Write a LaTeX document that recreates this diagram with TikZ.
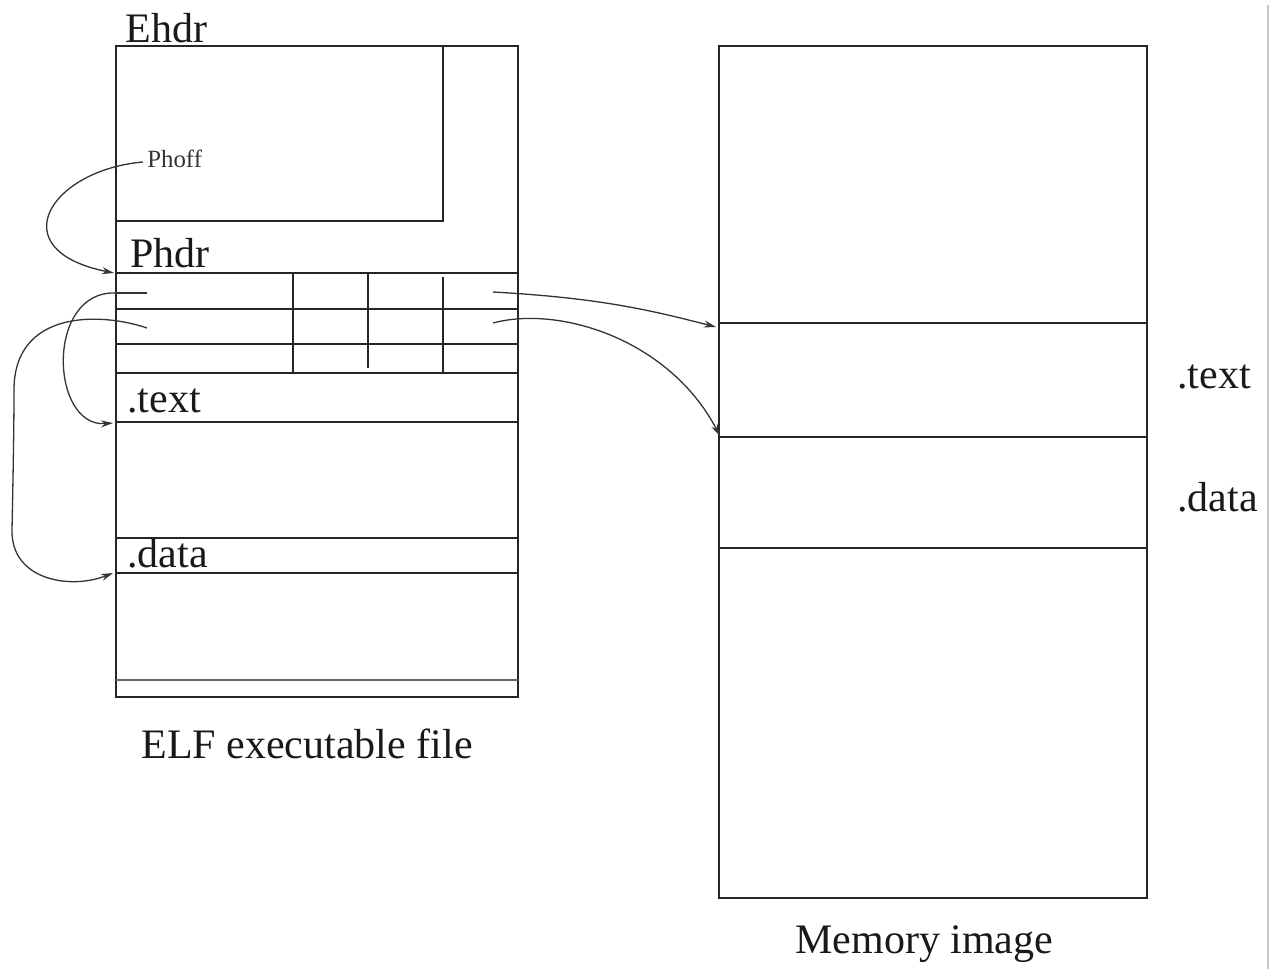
\documentclass[tikz,border=0pt]{standalone}
\usepackage{fontspec}
\setmainfont{Liberation Serif}
\usetikzlibrary{arrows.meta}
\begin{document}
\begin{tikzpicture}[x=0.5pt,y=-0.5pt,
  ln/.style={draw=black!85,line width=0.75pt},
  lbl/.style={anchor=base west,inner sep=0pt,font=\fontsize{21}{25}\selectfont,text=black!90},
  small/.style={anchor=base west,inner sep=0pt,font=\fontsize{12.4}{14}\selectfont,text=black!80},
  conn/.style={draw=black!80,line width=0.65pt,-{Stealth[length=6pt,width=3.5pt]}},
  plain/.style={draw=black!80,line width=0.65pt}]
\useasboundingbox (0,0) rectangle (1270,969);
% faint right edge line
\draw[gray!45,line width=0.8pt] (1268,5) -- (1268,969);
% ---- ELF file box ----
\draw[ln] (116,46) rectangle (518,697);
\draw[ln] (443,46) -- (443,221) -- (116,221);
\draw[ln] (116,273) -- (518,273);
\draw[ln] (116,309) -- (518,309);
\draw[ln] (116,344) -- (518,344);
\draw[ln] (116,373) -- (518,373);
\draw[ln] (293,273) -- (293,373);
\draw[ln] (368,273) -- (368,368);
\draw[ln] (443,277) -- (443,373);
\draw[ln] (116,422) -- (518,422);
\draw[ln] (116,538) -- (518,538);
\draw[ln] (116,573) -- (518,573);
\draw[draw=black!60,line width=1.1pt] (116,680) -- (518,680);
% ---- Memory image box ----
\draw[ln] (719,46) rectangle (1147,898);
\draw[ln] (719,323) -- (1147,323);
\draw[ln] (719,437) -- (1147,437);
\draw[ln] (719,548) -- (1147,548);
% ---- labels ----
\node[lbl] (ehdr) at (125,42) {Ehdr};
\node[lbl] (phdr) at (130,267) {Phdr};
\node[lbl] (ltext) at (127,412) {.text};
\node[lbl] (ldata) at (127,567) {.data};
\node[lbl] (rtext) at (1177,388) {.text};
\node[lbl] (rdata) at (1177,511) {.data};
\node[lbl] (elf) at (141,758) {ELF executable file};
\node[lbl] (mem) at (795,953) {Memory image};
\node[small] (phoff) at (147,167) {Phoff};
% ---- connector end points ----
\coordinate (phoffS) at (143,162);
\coordinate (phdrT) at (114,273);
\coordinate (r1S) at (147,293);
\coordinate (r1L) at (116,293);
\coordinate (textT) at (113,423);
\coordinate (r2S) at (147,328);
\coordinate (dataT) at (113,573);
\coordinate (p1S) at (493,292);
\coordinate (memText) at (716,327);
\coordinate (p2S) at (493,323);
\coordinate (memData) at (720,436);
% ---- connectors ----
\draw[conn] (phoffS) .. controls (50,170) and (0,250) .. (phdrT);
\draw[plain] (r1S) -- (r1L);
\draw[conn] (r1L) .. controls (45,290) and (50,428) .. (textT);
\draw[conn] (r2S) .. controls (100,312) and (14,310) .. (14,390)
  .. controls (14,430) and (13,480) .. (12,530)
  .. controls (11,580) and (70,590) .. (dataT);
\draw[conn] (p1S) .. controls (600,298) and (650,310) .. (memText);
\draw[conn] (p2S) .. controls (560,305) and (670,340) .. (memData);
\end{tikzpicture}
\end{document}
